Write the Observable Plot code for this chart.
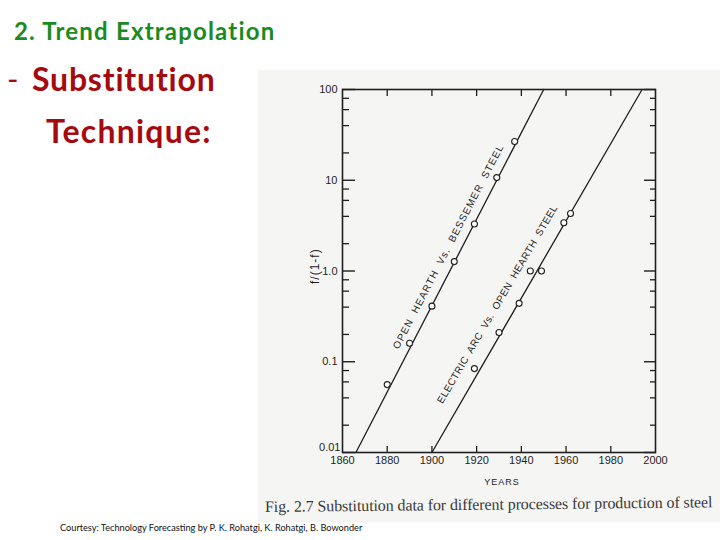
<!DOCTYPE html>
<html><head><meta charset="utf-8">
<script src="https://cdn.jsdelivr.net/npm/d3@7"></script>
<script src="https://cdn.jsdelivr.net/npm/@observablehq/plot@0.6"></script>
<style>
body{margin:0;width:720px;height:540px;background:#fff;position:relative;overflow:hidden;font-family:Lato,sans-serif}
#scan{position:absolute;left:258px;top:70px;width:462px;height:452px;background:#f5f5f3}
#chart{position:absolute;left:290px;top:70px}
.t{position:absolute;white-space:nowrap;line-height:1}
</style></head><body>
<div id="scan"></div>
<div class="t" style="left:14px;top:19px;font-size:24px;font-weight:bold;color:#1b8a22;letter-spacing:1.2px">2. Trend Extrapolation</div>
<div class="t" style="left:7px;top:63px;font-size:31px;color:#a50a0f">-</div>
<div class="t" style="left:32px;top:62.5px;font-size:32px;font-weight:bold;color:#a50a0f;letter-spacing:0.8px">Substitution</div>
<div class="t" style="left:46px;top:114.5px;font-size:32px;font-weight:bold;color:#a50a0f;letter-spacing:1.2px">Technique:</div>
<div id="chart"></div>
<div class="t" style="left:265px;top:499px;font-size:16px;font-family:'Liberation Serif',serif;color:#3a3a3a;letter-spacing:-0.1px;transform:rotate(-0.6deg);transform-origin:left center">Fig. 2.7 Substitution data for different processes for production of steel</div>
<div class="t" style="left:60px;top:522.5px;font-size:9.2px;color:#111">Courtesy: Technology Forecasting by P. K. Rohatgi, K. Rohatgi, B. Bowonder</div>
<script>
// ---- data ----
const majorTicks = [0.01, 0.1, 1, 10, 100];
const majorLabels = ["0.01", "0.1", "1.0", "10", "100"];
const minorTicks = [0.02, 0.04, 0.06, 0.08, 0.2, 0.4, 0.6, 0.8, 2, 4, 6, 8, 20, 40, 60, 80];
const yearTicks = [1860, 1880, 1900, 1920, 1940, 1960, 1980, 2000];
const innerYearTicks = [1880, 1900, 1920, 1940, 1960, 1980];

const ohYears = [1880, 1890, 1900, 1910, 1919, 1929, 1937];
const ohValues = [0.056, 0.16, 0.41, 1.27, 3.3, 10.7, 26.7];
const eaYears = [1919, 1930, 1939, 1944, 1949, 1959, 1962];
const eaValues = [0.084, 0.21, 0.44, 1.0, 1.0, 3.4, 4.3];

const ohTrendYears = [1866, 1950];
const ohTrendValues = [0.01, 100];
const eaTrendYears = [1900, 1994];
const eaTrendValues = [0.01, 100];

const lineLabels = ["OPEN HEARTH Vs. BESSEMER STEEL", "ELECTRIC ARC Vs. OPEN HEARTH STEEL"];
const labelYears = [1907.4, 1929.3];
const labelValues = [1.86, 0.43];

// ---- build tables ----
const ohPoints = ohYears.map((x, i) => ({x, y: ohValues[i]}));
const eaPoints = eaYears.map((x, i) => ({x, y: eaValues[i]}));
const ohTrend = ohTrendYears.map((x, i) => ({x, y: ohTrendValues[i]}));
const eaTrend = eaTrendYears.map((x, i) => ({x, y: eaTrendValues[i]}));

const ink = "#1e1e1e";
const noText = () => "";
const labelOf = d => majorLabels[majorTicks.indexOf(d)];

const plot = Plot.plot({
  width: 400, height: 430,
  marginLeft: 52, marginRight: 35, marginTop: 19, marginBottom: 48,
  style: {background: "transparent", fontFamily: "'Liberation Sans', sans-serif", color: ink},
  x: {domain: [1860, 2000]},
  y: {type: "log", domain: [0.01, 100]},
  marks: [
    Plot.axisY(majorTicks, {anchor: "left", tickSize: -13, tickFormat: noText, label: null, strokeWidth: 1.4}),
    Plot.axisY(minorTicks, {anchor: "left", tickSize: -7, tickFormat: noText, label: null, strokeWidth: 1.3}),
    Plot.axisY(majorTicks, {anchor: "right", tickSize: -12, tickFormat: noText, label: null, strokeWidth: 1.4}),
    Plot.axisY(minorTicks, {anchor: "right", tickSize: -6, tickFormat: noText, label: null, strokeWidth: 1.3}),
    Plot.axisY(majorTicks.slice(1), {anchor: "left", tickSize: 0, tickPadding: 5, fontSize: 11,
      tickFormat: labelOf, label: null}),
    Plot.axisY(majorTicks.slice(0, 1), {anchor: "left", tickSize: 0, tickPadding: 2, fontSize: 11, dy: -5,
      tickFormat: labelOf, label: null}),
    Plot.axisX(innerYearTicks, {anchor: "bottom", tickSize: -6, tickFormat: noText, label: null, strokeWidth: 1.3}),
    Plot.axisX(innerYearTicks, {anchor: "top", tickSize: -6, tickFormat: noText, label: null, strokeWidth: 1.3}),
    Plot.axisX(yearTicks, {anchor: "bottom", tickSize: 0, tickPadding: 4, fontSize: 11,
      tickFormat: d => String(d), label: null}),
    Plot.frame({stroke: ink, strokeWidth: 1.6}),
    Plot.text(["YEARS"], {frameAnchor: "bottom", dx: 3, dy: 32, fontSize: 9, fill: ink}),
    Plot.text(["f/(1-f)"], {frameAnchor: "left", dx: -27, dy: 13, rotate: -90, fontSize: 12, fill: ink}),
    Plot.line(ohTrend, {x: "x", y: "y", stroke: ink, strokeWidth: 1.3}),
    Plot.line(eaTrend, {x: "x", y: "y", stroke: ink, strokeWidth: 1.3}),
    Plot.dot(ohPoints, {x: "x", y: "y", r: 3, stroke: ink, fill: "white", strokeWidth: 1.1}),
    Plot.dot(eaPoints, {x: "x", y: "y", r: 3, stroke: ink, fill: "white", strokeWidth: 1.1}),
    Plot.text([lineLabels[0]], {x: [labelYears[0]], y: [labelValues[0]], rotate: -62.6, fontSize: 10, fill: ink}),
    Plot.text([lineLabels[1]], {x: [labelYears[1]], y: [labelValues[1]], rotate: -59.6, fontSize: 10, fill: ink})
  ]
});
const svg = d3.select(plot);
svg.selectAll("text")
  .filter(function() { return this.textContent === lineLabels[0]; })
  .attr("letter-spacing", 1.1).attr("word-spacing", 3.5);
svg.selectAll("text")
  .filter(function() { return this.textContent === lineLabels[1]; })
  .attr("letter-spacing", 0.4).attr("word-spacing", 3);
svg.selectAll("text")
  .filter(function() { return this.textContent === "YEARS" || this.textContent === "f/(1-f)"; })
  .attr("letter-spacing", 1);
document.getElementById("chart").appendChild(plot);
</script>
</body></html>
